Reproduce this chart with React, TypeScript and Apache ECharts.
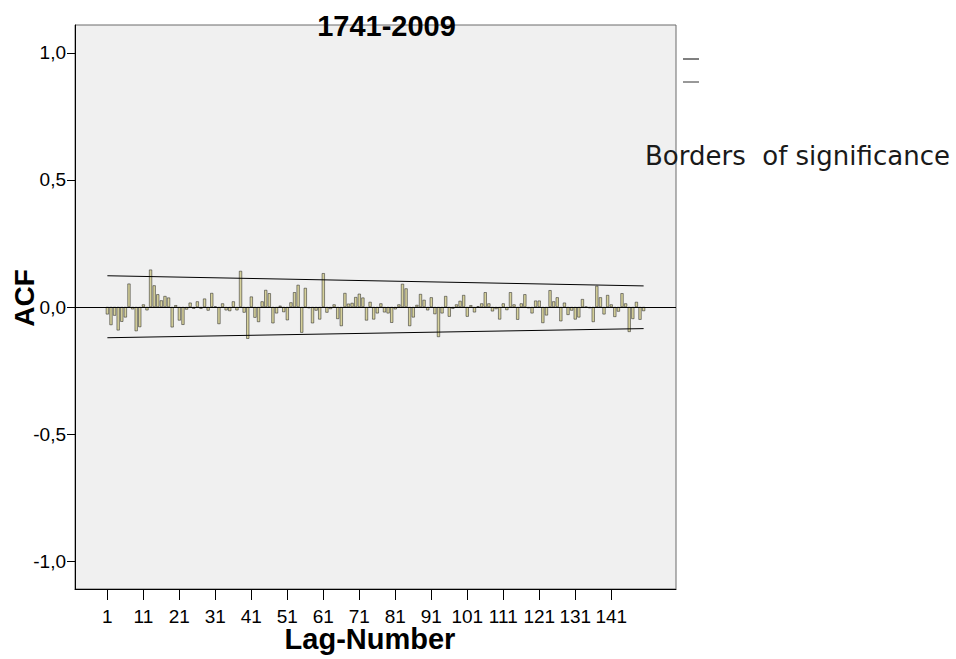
import React, { useEffect, useRef } from "react";
import * as echarts from "echarts";

const title = "1741-2009";
const yName = "ACF";
const xName = "Lag-Number";
const legendText = "Borders  of significance";

const lags: number[] = Array.from({ length: 150 }, (_, i) => i + 1);

const acf: number[] = [
  -0.029, -0.071, -0.034, -0.092, -0.058, -0.041, 0.092, -0.009, -0.095, -0.079,
  0.010, -0.013, 0.147, 0.085, 0.050, 0.026, 0.043, 0.037, -0.080, 0.007,
  -0.053, -0.070, -0.010, 0.017, -0.007, 0.022, -0.007, 0.033, -0.014, 0.055,
  0.002, -0.067, 0.014, -0.013, -0.016, 0.022, -0.013, 0.142, -0.022, -0.125,
  0.041, -0.042, -0.059, 0.022, 0.067, 0.054, -0.064, -0.025, 0.005, -0.020,
  -0.052, 0.018, 0.058, 0.087, -0.101, 0.075, -0.005, -0.064, -0.014, -0.049,
  0.133, -0.022, -0.008, 0.010, -0.047, -0.075, 0.055, 0.013, 0.016, 0.039,
  0.052, 0.037, -0.053, 0.020, -0.049, -0.025, 0.014, -0.021, -0.025, -0.062,
  -0.009, 0.010, 0.091, 0.073, -0.075, -0.041, 0.008, 0.051, 0.028, -0.013,
  0.038, -0.028, -0.118, -0.025, 0.043, -0.038, -0.007, 0.010, 0.024, 0.047,
  -0.038, 0.007, -0.021, 0.003, 0.014, 0.058, 0.014, -0.017, -0.008, -0.049,
  0.014, -0.012, 0.058, 0.010, -0.050, 0.014, 0.050, -0.005, -0.025, 0.025,
  0.025, -0.063, -0.033, 0.066, 0.022, 0.038, -0.056, 0.017, -0.031, -0.014,
  -0.049, -0.041, 0.031, 0.001, -0.005, -0.059, 0.083, 0.038, -0.029, 0.047,
  0.010, -0.039, -0.018, 0.054, 0.014, -0.098, -0.047, 0.020, -0.050, -0.016,
];

const boundLags: number[] = [1, 150];
const upperBound: number[] = [0.123, 0.083];
const lowerBound: number[] = [-0.121, -0.085];

const xTickLabels: number[] = [1, 11, 21, 31, 41, 51, 61, 71, 81, 91, 101, 111, 121, 131, 141];
const yTickLabels: number[] = [-1, -0.5, 0, 0.5, 1];

const FONT = '"Liberation Sans", Arial, sans-serif';

export default function App() {
  const ref = useRef<HTMLDivElement>(null);
  useEffect(() => {
    if (!ref.current) return;
    const chart = echarts.init(ref.current, undefined, { renderer: "svg" });
    const barData = lags.map((l, i) => [l, acf[i]]);
    const upData = boundLags.map((l, i) => [l, upperBound[i]]);
    const loData = boundLags.map((l, i) => [l, lowerBound[i]]);
    chart.setOption({
      animation: false,
      backgroundColor: "#ffffff",
      grid: {
        left: 75,
        top: 25,
        width: 601,
        height: 564,
        show: true,
        backgroundColor: "#f0f0f0",
        borderColor: "#6a6a6a",
        borderWidth: 1,
      },
      xAxis: {
        type: "value",
        min: -8,
        max: 159,
        axisLine: { show: true, onZero: false, lineStyle: { color: "#000", width: 1 } },
        axisTick: {
          show: true,
          length: 11,
          customValues: xTickLabels,
          lineStyle: { color: "#000", width: 1 },
        },
        axisLabel: {
          customValues: xTickLabels,
          margin: 18,
          color: "#000",
          fontFamily: FONT,
          fontSize: 19,
        },
        splitLine: { show: false },
      },
      yAxis: {
        type: "value",
        min: -1.11,
        max: 1.11,
        axisLine: { show: true, onZero: false, lineStyle: { color: "#000", width: 1 } },
        axisTick: {
          show: true,
          length: 8,
          customValues: yTickLabels,
          lineStyle: { color: "#000", width: 1 },
        },
        axisLabel: {
          customValues: yTickLabels,
          margin: 9,
          color: "#000",
          fontFamily: FONT,
          fontSize: 19,
          formatter: (v: number) => v.toFixed(1).replace(".", ","),
        },
        splitLine: { show: false },
      },
      series: [
        {
          type: "bar",
          data: barData,
          barWidth: 3,
          itemStyle: { color: "#d6d19c", borderColor: "#1a1a1a", borderWidth: 0.5 },
          markLine: {
            silent: true,
            symbol: "none",
            label: { show: false },
            lineStyle: { color: "#000", width: 1, type: "solid" },
            data: [{ yAxis: 0 }],
          },
          z: 3,
        },
        {
          type: "line",
          data: upData,
          symbol: "none",
          lineStyle: { color: "#000", width: 1 },
          z: 4,
        },
        {
          type: "line",
          data: loData,
          symbol: "none",
          lineStyle: { color: "#000", width: 1 },
          z: 4,
        },
      ],
      graphic: [
        {
          type: "text",
          x: 386.5,
          y: 26,
          z: 10,
          style: {
            text: title,
            font: `bold 29px ${FONT}`,
            fill: "#000",
            align: "center",
            verticalAlign: "middle",
            textAlign: "center",
            textVerticalAlign: "middle",
          },
        },
        {
          type: "text",
          x: 24,
          y: 298,
          rotation: Math.PI / 2,
          style: {
            text: yName,
            font: `bold 28px ${FONT}`,
            fill: "#000",
            align: "center",
            verticalAlign: "middle",
            textAlign: "center",
            textVerticalAlign: "middle",
          },
        },
        {
          type: "text",
          x: 370,
          y: 639,
          style: {
            text: xName,
            font: `bold 29px ${FONT}`,
            fill: "#000",
            align: "center",
            verticalAlign: "middle",
            textAlign: "center",
            textVerticalAlign: "middle",
          },
        },
        {
          type: "line",
          shape: { x1: 683, y1: 59, x2: 699, y2: 59 },
          style: { stroke: "#000", lineWidth: 1 },
        },
        {
          type: "line",
          shape: { x1: 683, y1: 82, x2: 699, y2: 82 },
          style: { stroke: "#333", lineWidth: 1 },
        },
        {
          type: "text",
          x: 645,
          y: 156,
          z: 10,
          style: {
            text: legendText,
            font: '26px "DejaVu Sans", sans-serif',
            fill: "#1a1a1a",
            align: "left",
            verticalAlign: "middle",
            textAlign: "left",
            textVerticalAlign: "middle",
          },
        },
      ],
    });
    return () => chart.dispose();
  }, []);
  return (
    <div
      ref={ref}
      style={{ position: "fixed", left: 0, top: 0, width: 956, height: 659, background: "#fff" }}
    />
  );
}
